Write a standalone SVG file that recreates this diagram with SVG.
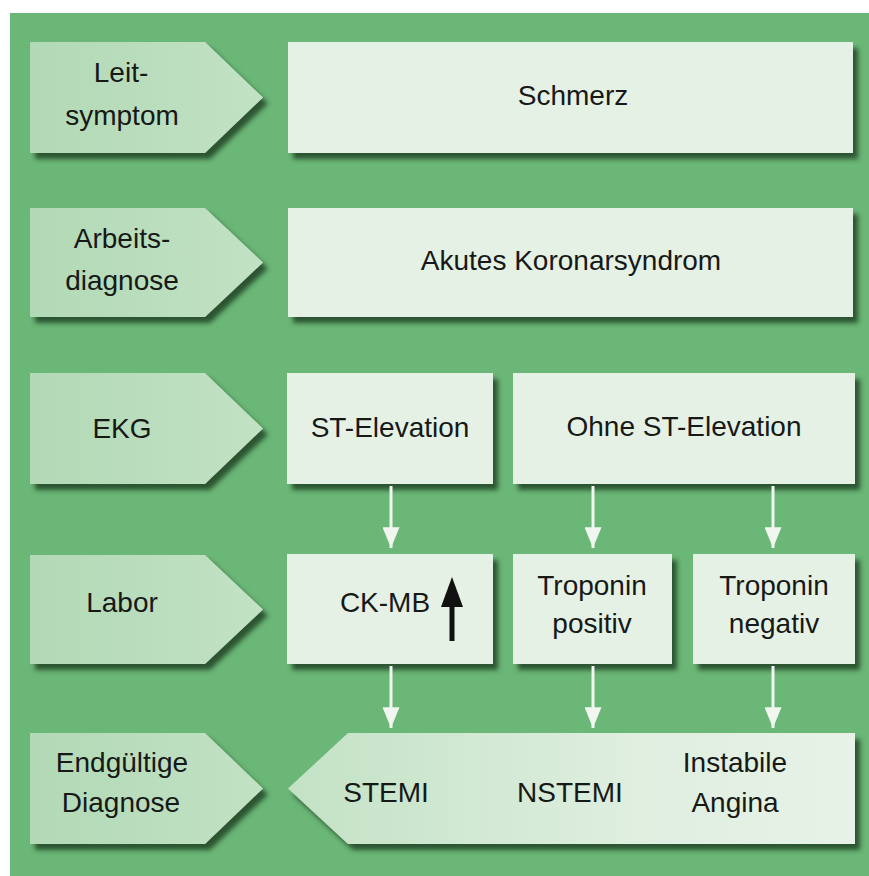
<svg xmlns="http://www.w3.org/2000/svg" width="869" height="876" viewBox="0 0 869 876">
  <defs>
    <filter id="sh" x="-10%" y="-10%" width="125%" height="130%">
      <feDropShadow dx="5" dy="6" stdDeviation="2.5" flood-color="#244a29" flood-opacity="0.9"/>
    </filter>
    <linearGradient id="lbl" x1="0" y1="0" x2="1" y2="0">
      <stop offset="0" stop-color="#b2d9b6"/>
      <stop offset="1" stop-color="#c2e2c4"/>
    </linearGradient>
    <linearGradient id="fin" x1="0" y1="0" x2="1" y2="0">
      <stop offset="0" stop-color="#c3e2c5"/>
      <stop offset="0.6" stop-color="#deeedf"/>
      <stop offset="1" stop-color="#e8f2e8"/>
    </linearGradient>
    <marker id="ah" viewBox="0 0 22 18" refX="22" refY="9" markerWidth="22" markerHeight="17" markerUnits="userSpaceOnUse" orient="auto">
      <path d="M0,0 L22,9 L0,18 z" fill="#f1f6f0"/>
    </marker>
  </defs>
  <style>
    text { font-family: "Liberation Sans", Arial, sans-serif; font-size: 28px; fill: #161916; text-anchor: middle; }
    .lbl { fill: url(#lbl); filter: url(#sh); }
    .box { fill: #e6f1e6; filter: url(#sh); }
    .fin { fill: url(#fin); filter: url(#sh); }
    .con { stroke: #f1f6f0; stroke-width: 3; fill: none; marker-end: url(#ah); }
  </style>

  <rect x="0" y="0" width="869" height="876" fill="#ffffff"/>
  <rect x="10" y="13" width="859" height="863" fill="#6bb777"/>

  <g id="label-leitsymptom">
    <polygon class="lbl" points="30,42 205,42 263,97.5 205,153 30,153"/>
    <text x="121" y="82">Leit-</text>
    <text x="122" y="125">symptom</text>
  </g>
  <g id="node-schmerz">
    <rect class="box" x="288" y="42" width="565" height="111"/>
    <text x="573" y="105">Schmerz</text>
  </g>

  <g id="label-arbeitsdiagnose">
    <polygon class="lbl" points="30,208 205,208 263,262.5 205,317 30,317"/>
    <text x="122" y="248">Arbeits-</text>
    <text x="122" y="290">diagnose</text>
  </g>
  <g id="node-akutes-koronarsyndrom">
    <rect class="box" x="288" y="208" width="565" height="109"/>
    <text x="571" y="270">Akutes Koronarsyndrom</text>
  </g>

  <g id="label-ekg">
    <polygon class="lbl" points="30,373 205,373 263,428.5 205,484 30,484"/>
    <text x="122" y="438">EKG</text>
  </g>
  <g id="node-st-elevation">
    <rect class="box" x="287" y="373" width="206" height="111"/>
    <text x="390" y="437">ST-Elevation</text>
  </g>
  <g id="node-ohne-st-elevation">
    <rect class="box" x="513" y="373" width="342" height="111"/>
    <text x="684" y="436">Ohne ST-Elevation</text>
  </g>

  <g id="label-labor">
    <polygon class="lbl" points="30,555 205,555 263,609.5 205,664 30,664"/>
    <text x="122" y="612">Labor</text>
  </g>
  <g id="node-ck-mb">
    <rect class="box" x="287" y="554" width="206" height="110"/>
    <text x="385" y="612">CK-MB</text>
    <line x1="452" y1="603" x2="452" y2="641" stroke="#111111" stroke-width="5"/>
    <polygon points="452,577 441,607 463,607" fill="#111111"/>
  </g>
  <g id="node-troponin-positiv">
    <rect class="box" x="513" y="554" width="159" height="110"/>
    <text x="592" y="595">Troponin</text>
    <text x="592" y="633">positiv</text>
  </g>
  <g id="node-troponin-negativ">
    <rect class="box" x="693" y="554" width="162" height="110"/>
    <text x="774" y="595">Troponin</text>
    <text x="774" y="633">negativ</text>
  </g>

  <g id="label-endgueltige-diagnose">
    <polygon class="lbl" points="30,733 205,733 263,788.5 205,844 30,844"/>
    <text x="122" y="772">Endgültige</text>
    <text x="121" y="812">Diagnose</text>
  </g>
  <g id="node-endgueltige-diagnose">
    <polygon class="fin" points="288,788.5 348,733 855,733 855,844 348,844"/>
    <text x="386" y="802">STEMI</text>
    <text x="570" y="802">NSTEMI</text>
    <text x="735" y="772">Instabile</text>
    <text x="735" y="812">Angina</text>
  </g>

  <g id="connectors">
    <line class="con" x1="391" y1="486" x2="391" y2="548"/>
    <line class="con" x1="593" y1="486" x2="593" y2="548"/>
    <line class="con" x1="773" y1="486" x2="773" y2="548"/>
    <line class="con" x1="391" y1="666" x2="391" y2="728"/>
    <line class="con" x1="593" y1="666" x2="593" y2="728"/>
    <line class="con" x1="773" y1="666" x2="773" y2="728"/>
  </g>
</svg>
